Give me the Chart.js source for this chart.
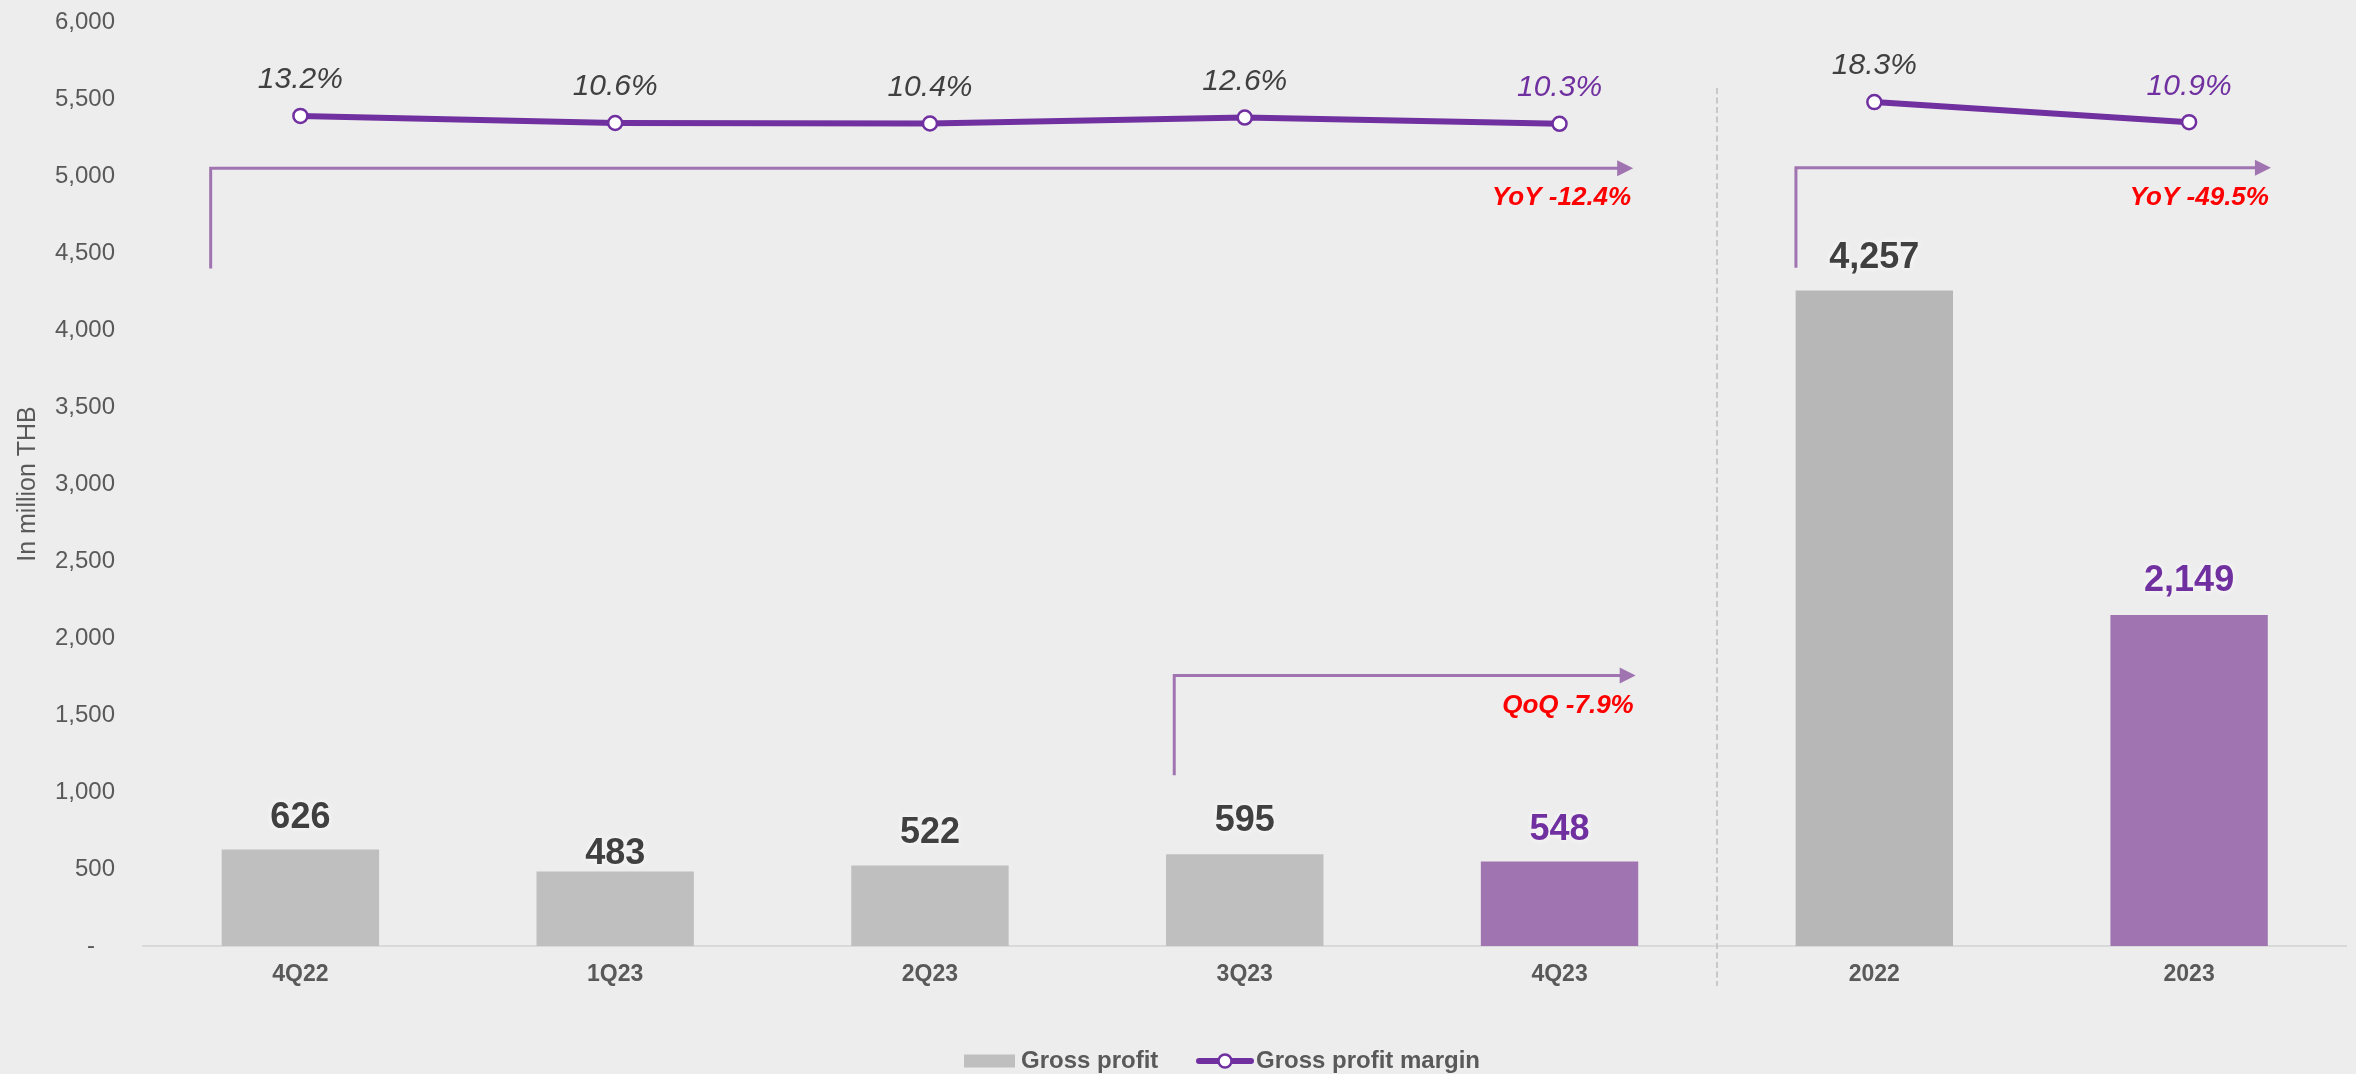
<!DOCTYPE html>
<html>
<head>
<meta charset="utf-8">
<script src="https://cdn.jsdelivr.net/npm/chart.js@4.4.1/dist/chart.umd.min.js"></script>
<style>
  html, body { margin: 0; padding: 0; background: #EDEDED; }
  #wrap { width: 2356px; height: 1074px; }
</style>
</head>
<body>
<div id="wrap"><canvas id="c" width="2356" height="1074"></canvas></div>
<script>
// ---- data ----
const categories = ['4Q22', '1Q23', '2Q23', '3Q23', '4Q23', '2022', '2023'];
const grossProfit = [626, 483, 522, 595, 548, 4257, 2149];
const grossMargin = [13.2, 10.6, 10.4, 12.6, 10.3, 18.3, 10.9];
const yTicksMax = 6000;
const yTickStep = 500;
const highlightIdx = [4, 6];
const annotations = [
  { from: 0, fromOff: -0.285, to: 4, toOff: 0.234, yLow: 4400, yHigh: 5050, text: 'YoY -12.4%' },
  { from: 5, fromOff: -0.249, to: 6, toOff: 0.26, yLow: 4404, yHigh: 5053, text: 'YoY -49.5%' },
  { from: 3, fromOff: -0.224, to: 4, toOff: 0.242, yLow: 1109, yHigh: 1756, text: 'QoQ -7.9%' }
];
// style: gap (px) between bar top and its value label
const barLabelGap = [32, 18, 33, 33, 32, 32, 34];

const FONT = "'Liberation Sans', Arial, Helvetica, sans-serif";
const PURPLE = '#7030A0';
const PURPLE_LIGHT = '#A074B0';
const DARK = '#404040';
const AXIS = '#595959';

const barColors = categories.map((c, i) =>
  highlightIdx.includes(i) ? PURPLE_LIGHT : (i === 5 ? '#B8B7B8' : '#BFBFBF'));

const overlay = {
  id: 'overlay',
  beforeDraw(chart) {
    const ctx = chart.ctx;
    ctx.save();
    ctx.fillStyle = '#EDEDED';
    ctx.fillRect(0, 0, chart.width, chart.height);
    ctx.restore();
  },
  afterDatasetsDraw(chart) {
    const { ctx, scales: { x, y }, chartArea } = chart;
    const step = x.getPixelForValue(1) - x.getPixelForValue(0);
    // divider
    const xd = (x.getPixelForValue(4) + x.getPixelForValue(5)) / 2;
    ctx.save();
    ctx.strokeStyle = '#C8C8C8';
    ctx.lineWidth = 2;
    ctx.setLineDash([6, 3.5]);
    ctx.beginPath();
    ctx.moveTo(Math.round(xd), chartArea.top + 66);
    ctx.lineTo(Math.round(xd), chartArea.bottom + 40);
    ctx.stroke();
    ctx.restore();

    // arrows
    annotations.forEach(a => {
      const xa = x.getPixelForValue(a.from) + a.fromOff * step;
      const xt = x.getPixelForValue(a.to) + a.toOff * step;
      const yl = y.getPixelForValue(a.yLow);
      const yh = y.getPixelForValue(a.yHigh);
      ctx.save();
      ctx.strokeStyle = PURPLE_LIGHT;
      ctx.fillStyle = PURPLE_LIGHT;
      ctx.lineWidth = 3;
      ctx.beginPath();
      ctx.moveTo(xa, yl);
      ctx.lineTo(xa, yh);
      ctx.lineTo(xt - 14, yh);
      ctx.stroke();
      ctx.beginPath();
      ctx.moveTo(xt, yh);
      ctx.lineTo(xt - 16, yh - 8);
      ctx.lineTo(xt - 16, yh + 8);
      ctx.closePath();
      ctx.fill();
      ctx.fillStyle = '#FF0000';
      ctx.font = `italic bold 26px ${FONT}`;
      ctx.textAlign = 'right';
      ctx.textBaseline = 'middle';
      ctx.fillText(a.text, xt - 2, yh + 30);
      ctx.restore();
    });

    // bar value labels
    const m0 = chart.getDatasetMeta(0);
    ctx.save();
    ctx.font = `bold 36px ${FONT}`;
    ctx.textAlign = 'center';
    ctx.textBaseline = 'middle';
    ctx.shadowColor = 'rgba(255,255,255,0.95)';
    ctx.shadowBlur = 6;
    m0.data.forEach((el, i) => {
      ctx.fillStyle = highlightIdx.includes(i) ? PURPLE : DARK;
      ctx.fillText(grossProfit[i].toLocaleString('en-US'), el.x, el.y - barLabelGap[i]);
    });
    ctx.restore();

    // margin labels
    const m1 = chart.getDatasetMeta(1);
    ctx.save();
    ctx.font = `italic 30px ${FONT}`;
    ctx.textAlign = 'center';
    ctx.textBaseline = 'middle';
    m1.data.forEach((pt, i) => {
      ctx.fillStyle = highlightIdx.includes(i) ? PURPLE : DARK;
      ctx.fillText(grossMargin[i].toFixed(1) + '%', pt.x, pt.y - 36);
    });
    ctx.restore();
  },
  afterDraw(chart) {
    // legend
    const ctx = chart.ctx;
    ctx.save();
    const ly = 1061;
    ctx.fillStyle = '#BFBFBF';
    ctx.fillRect(964, ly - 6.5, 51, 13);
    ctx.font = `bold 24px ${FONT}`;
    ctx.fillStyle = AXIS;
    ctx.textAlign = 'left';
    ctx.textBaseline = 'middle';
    ctx.fillText(chart.data.datasets[0].label, 1021, ly);
    ctx.strokeStyle = PURPLE;
    ctx.lineWidth = 6;
    ctx.lineCap = 'round';
    ctx.beginPath();
    ctx.moveTo(1199, ly);
    ctx.lineTo(1251, ly);
    ctx.stroke();
    ctx.beginPath();
    ctx.arc(1225, ly, 6.5, 0, Math.PI * 2);
    ctx.fillStyle = '#FFFFFF';
    ctx.fill();
    ctx.lineWidth = 2.5;
    ctx.stroke();
    ctx.fillStyle = AXIS;
    ctx.fillText(chart.data.datasets[1].label, 1256, ly);
    ctx.restore();
  }
};

new Chart(document.getElementById('c'), {
  type: 'bar',
  data: {
    labels: categories,
    datasets: [
      {
        type: 'bar',
        label: 'Gross profit',
        data: grossProfit,
        backgroundColor: barColors,
        categoryPercentage: 1.0,
        barPercentage: 0.5,
        yAxisID: 'y',
        order: 2
      },
      {
        type: 'line',
        label: 'Gross profit margin',
        data: grossMargin,
        borderColor: PURPLE,
        borderWidth: 6,
        pointRadius: 7,
        pointBorderWidth: 2.5,
        pointBackgroundColor: '#FFFFFF',
        pointBorderColor: PURPLE,
        tension: 0,
        yAxisID: 'y1',
        order: 1,
        segment: {
          borderColor: c => c.p0DataIndex === 4 ? 'rgba(0,0,0,0)' : undefined
        }
      }
    ]
  },
  options: {
    responsive: false,
    animation: false,
    devicePixelRatio: 1,
    layout: { padding: { left: 0, right: 4, top: 22, bottom: 68 } },
    plugins: {
      legend: { display: false },
      tooltip: { enabled: false }
    },
    scales: {
      x: {
        grid: { display: false, drawTicks: false },
        border: { display: true, color: '#D9D9D9', width: 2 },
        ticks: { color: AXIS, font: { family: FONT, size: 23, weight: 'bold' }, padding: 15 },
        afterFit(s) { s.height = 60; }
      },
      y: {
        min: 0,
        max: yTicksMax,
        grid: { display: false, drawTicks: false },
        border: { display: false },
        ticks: {
          stepSize: yTickStep,
          color: AXIS,
          padding: 28,
          font: { family: FONT, size: 24 },
          callback: v => v === 0 ? '-   ' : v.toLocaleString('en-US')
        },
        title: {
          display: true,
          text: 'In million THB',
          color: AXIS,
          font: { family: FONT, size: 25 },
          padding: { top: 13, bottom: 0 }
        },
        afterFit(s) { s.width = 143; s.paddingTop = 10; s.paddingBottom = 10; }
      },
      y1: {
        display: false,
        min: -292.6,
        max: 47.8
      }
    }
  },
  plugins: [overlay]
});
</script>
</body>
</html>
